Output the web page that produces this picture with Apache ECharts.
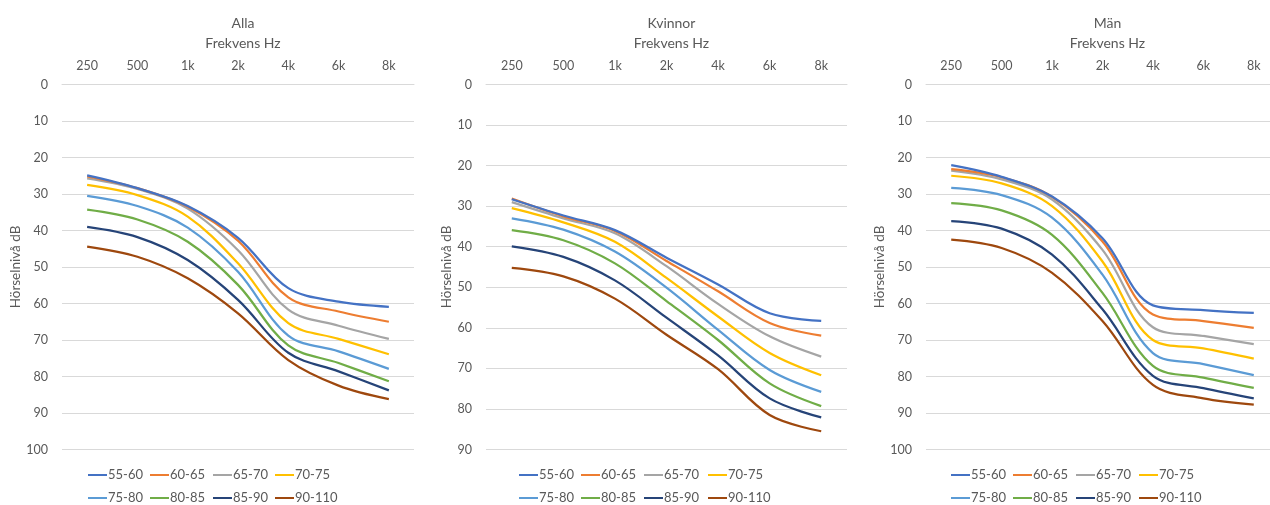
<!DOCTYPE html>
<html><head><meta charset="utf-8">
<script src="https://cdn.jsdelivr.net/npm/echarts@6/dist/echarts.min.js"></script>
<style>html,body{margin:0;padding:0;background:#fff}#c{width:1270px;height:505px}</style>
</head><body><div id="c"></div>
<script>
const categories = ['250', '500', '1k', '2k', '4k', '6k', '8k'];
const groups = ['55-60', '60-65', '65-70', '70-75', '75-80', '80-85', '85-90', '90-110'];
const colors = ['#4472C4', '#ED7D31', '#A5A5A5', '#FFC000', '#5B9BD5', '#70AD47', '#264478', '#9E480E'];

// Alla
const alla55 = [24.9, 28.4, 33.3, 42.0, 55.8, 59.5, 60.9];
const alla60 = [25.2, 28.4, 33.5, 42.8, 58.3, 62.2, 65.0];
const alla65 = [25.7, 28.6, 34.0, 45.4, 61.7, 66.1, 69.7];
const alla70 = [27.5, 30.3, 36.2, 49.0, 65.4, 69.7, 73.9];
const alla75 = [30.5, 33.3, 39.2, 51.3, 68.8, 73.1, 77.9];
const alla80 = [34.3, 37.0, 43.1, 54.9, 71.5, 76.3, 81.3];
const alla85 = [39.0, 41.8, 48.1, 59.0, 73.5, 78.6, 83.8];
const alla90 = [44.4, 47.2, 53.1, 62.7, 75.5, 82.5, 86.2];

// Kvinnor
const kv55 = [28.3, 32.3, 35.9, 42.7, 49.3, 56.4, 58.3];
const kv60 = [28.1, 32.5, 36.1, 43.5, 51.0, 58.8, 61.9];
const kv65 = [29.0, 33.0, 36.7, 44.8, 54.1, 62.1, 67.1];
const kv70 = [30.5, 34.0, 38.8, 47.7, 57.2, 66.2, 71.7];
const kv75 = [33.0, 35.8, 41.2, 50.1, 60.5, 70.4, 75.8];
const kv80 = [35.9, 38.4, 44.1, 53.4, 63.0, 73.7, 79.3];
const kv85 = [39.9, 42.5, 48.3, 57.5, 66.8, 77.4, 82.1];
const kv90 = [45.2, 47.3, 52.8, 61.7, 70.2, 81.5, 85.5];

// Män
const man55 = [22.1, 25.3, 30.7, 42.1, 60.5, 61.8, 62.6];
const man60 = [23.2, 25.4, 30.8, 43.0, 63.0, 64.8, 66.7];
const man65 = [23.6, 26.0, 31.5, 45.3, 66.5, 68.9, 71.1];
const man70 = [25.0, 27.1, 33.3, 48.5, 70.0, 72.3, 75.1];
const man75 = [28.3, 30.3, 36.5, 52.1, 73.6, 76.6, 79.6];
const man80 = [32.5, 34.5, 41.2, 57.1, 77.1, 80.3, 83.1];
const man85 = [37.4, 39.5, 46.6, 61.6, 79.8, 83.2, 86.0];
const man90 = [42.5, 44.8, 51.6, 64.8, 82.3, 86.0, 87.7];

const panelTitles = ['Alla', 'Kvinnor', 'Män'];
const panelMax = [100, 90, 100];
const xAxisName = 'Frekvens Hz';
const yAxisName = 'Hörselnivå dB';

const panelData = [
  [alla55, alla60, alla65, alla70, alla75, alla80, alla85, alla90],
  [kv55, kv60, kv65, kv70, kv75, kv80, kv85, kv90],
  [man55, man60, man65, man70, man75, man80, man85, man90]
];

const layout = [
  {left: 62, width: 352, nameGap: 38, legendX: [88, 150, 213, 275]},
  {left: 486, width: 361, nameGap: 32, legendX: [519, 581, 644, 708]},
  {left: 926, width: 353, nameGap: 39, legendX: [951, 1013, 1076, 1139]}
];

const FONT = 'Lato';
const TXT = '#595959';
const chart = echarts.init(document.getElementById('c'), null, {renderer: 'canvas'});

const grid = [], xAxis = [], yAxis = [], series = [], title = [], legend = [];
layout.forEach((L, p) => {
  grid.push({left: L.left, width: L.width, top: 84.5, height: 365, containLabel: false, outerBoundsMode: 'none'});
  title.push({
    text: panelTitles[p] + '\n' + xAxisName,
    left: L.left + L.width / 2, textAlign: 'center', top: 8,
    textStyle: {fontFamily: FONT, fontSize: 14, fontWeight: 'normal', color: TXT, lineHeight: 20}
  });
  xAxis.push({
    type: 'category', gridIndex: p, data: categories, position: 'top', boundaryGap: true,
    axisLine: {show: true, lineStyle: {color: '#d9d9d9', width: 1}},
    axisTick: {show: false},
    axisLabel: {fontFamily: FONT, fontSize: 12.5, color: TXT, margin: 12}
  });
  yAxis.push({
    type: 'value', gridIndex: p, inverse: true, min: 0, max: panelMax[p], interval: 10,
    name: yAxisName, nameLocation: 'middle', nameGap: L.nameGap, nameRotate: 90,
    nameTextStyle: {fontFamily: FONT, fontSize: 13.5, color: TXT},
    axisLine: {show: false}, axisTick: {show: false},
    axisLabel: {fontFamily: FONT, fontSize: 12.5, color: TXT, margin: 14},
    splitLine: {show: true, lineStyle: {color: '#d9d9d9', width: 1}}
  });
  groups.forEach((g, i) => {
    series.push({
      name: g, type: 'line', xAxisIndex: p, yAxisIndex: p, data: panelData[p][i],
      smooth: 0.35, showSymbol: false, symbol: 'none',
      lineStyle: {color: colors[i], width: 2.25}, itemStyle: {color: colors[i]},
      emphasis: {disabled: true}, silent: true, z: 10 - i
    });
  });
  groups.forEach((g, i) => {
    const row = Math.floor(i / 4), col = i % 4;
    legend.push({
      data: [g], left: L.legendX[col], top: row === 0 ? 468.5 : 491.5,
      icon: 'rect', itemWidth: 19, itemHeight: 2, itemGap: 0, padding: 0,
      selectedMode: false,
      textStyle: {fontFamily: FONT, fontSize: 13, color: TXT, padding: [0, 0, 0, -4]}
    });
  });
});

chart.setOption({
  animation: false,
  backgroundColor: '#fff',
  color: colors,
  title, grid, xAxis, yAxis, series, legend
});
</script>
</body></html>
